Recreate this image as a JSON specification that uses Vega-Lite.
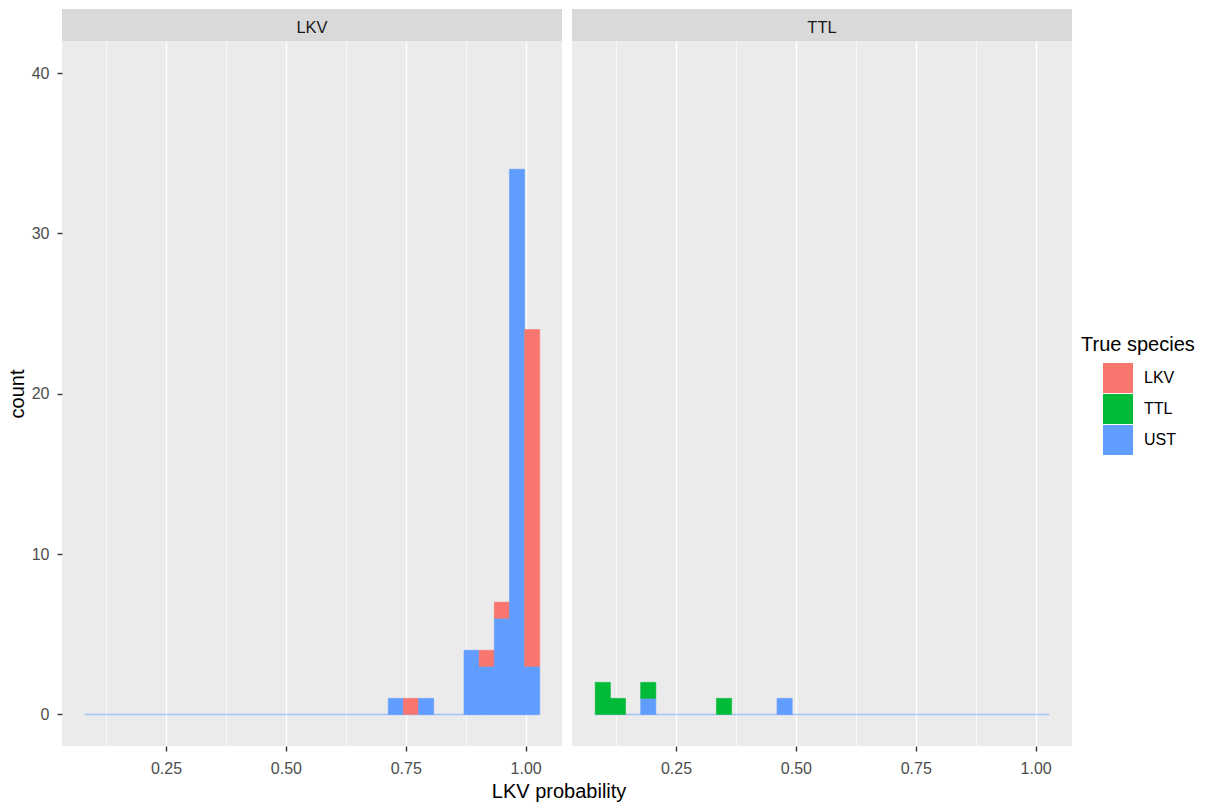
{
  "$schema": "https://vega.github.io/schema/vega-lite/v6.json",
  "padding": {"left": 7, "top": 9, "right": 5, "bottom": 5},
  "background": "white",
  "title": {"text": "LKV probability", "orient": "bottom", "anchor": "middle", "frame": "bounds", "fontSize": 20, "fontWeight": "normal", "color": "#000000", "font": "Liberation Sans", "offset": 6, "dx": -42},
  "data": {"values": [
    {"panel": "LKV", "species": "UST", "x0": 0.0805, "x1": 0.1121, "n": 0},
    {"panel": "LKV", "species": "UST", "x0": 0.7125, "x1": 0.7441, "n": 1},
    {"panel": "LKV", "species": "LKV", "x0": 0.7441, "x1": 0.7757, "n": 1},
    {"panel": "LKV", "species": "UST", "x0": 0.7757, "x1": 0.8073, "n": 1},
    {"panel": "LKV", "species": "UST", "x0": 0.8705, "x1": 0.9021, "n": 4},
    {"panel": "LKV", "species": "UST", "x0": 0.9021, "x1": 0.9337, "n": 3},
    {"panel": "LKV", "species": "LKV", "x0": 0.9021, "x1": 0.9337, "n": 1},
    {"panel": "LKV", "species": "UST", "x0": 0.9337, "x1": 0.9653, "n": 6},
    {"panel": "LKV", "species": "LKV", "x0": 0.9337, "x1": 0.9653, "n": 1},
    {"panel": "LKV", "species": "UST", "x0": 0.9653, "x1": 0.9969, "n": 34},
    {"panel": "LKV", "species": "UST", "x0": 0.9969, "x1": 1.0285, "n": 3},
    {"panel": "LKV", "species": "LKV", "x0": 0.9969, "x1": 1.0285, "n": 21},
    {"panel": "TTL", "species": "TTL", "x0": 0.0805, "x1": 0.1121, "n": 2},
    {"panel": "TTL", "species": "TTL", "x0": 0.1121, "x1": 0.1437, "n": 1},
    {"panel": "TTL", "species": "UST", "x0": 0.1753, "x1": 0.2069, "n": 1},
    {"panel": "TTL", "species": "TTL", "x0": 0.1753, "x1": 0.2069, "n": 1},
    {"panel": "TTL", "species": "TTL", "x0": 0.3333, "x1": 0.3649, "n": 1},
    {"panel": "TTL", "species": "UST", "x0": 0.4597, "x1": 0.4913, "n": 1},
    {"panel": "TTL", "species": "UST", "x0": 0.9969, "x1": 1.0285, "n": 0}
  ]},
  "spacing": 10,
  "hconcat": [
    {
      "spacing": 0,
      "vconcat": [
        {
          "width": 500, "height": 32,
          "view": {"fill": "#D9D9D9", "stroke": null},
          "transform": [{"filter": "datum.panel === 'LKV'"}, {"aggregate": [{"op": "count", "as": "c"}], "groupby": ["panel"]}],
          "mark": {"type": "text", "fontSize": 16.5, "color": "#1A1A1A", "baseline": "middle", "align": "center", "dy": 3},
          "encoding": {"text": {"field": "panel", "type": "nominal"}}
        },
        {
          "width": 500, "height": 705,
          "view": {"fill": "#EBEBEB", "stroke": null},
          "transform": [{"filter": "datum.panel === 'LKV'"}],
          "layer": [
            {
              "mark": {"type": "rule", "color": "#619CFF", "opacity": 0.5, "strokeWidth": 1.5},
              "encoding": {
                "x": {"aggregate": "min", "field": "x0", "type": "quantitative"},
                "x2": {"aggregate": "max", "field": "x1"},
                "y": {"datum": 0, "type": "quantitative"}
              }
            },
            {
              "mark": {"type": "bar", "strokeWidth": 0.6, "binSpacing": 0},
              "encoding": {
                "x": {"field": "x0", "type": "quantitative", "bin": "binned",
                      "scale": {"domain": [0.0331, 1.0759], "nice": false, "zero": false},
                      "axis": {"values": [0.125, 0.25, 0.375, 0.5, 0.625, 0.75, 0.875, 1.0], "format": ".2f",
                               "labelExpr": "indexof([0.25,0.5,0.75,1], datum.value) >= 0 ? datum.label : ''",
                               "gridWidth": {"condition": {"test": "indexof([0.25,0.5,0.75,1], datum.value) >= 0", "value": 1.4}, "value": 0.7},
                               "tickOpacity": {"condition": {"test": "indexof([0.25,0.5,0.75,1], datum.value) >= 0", "value": 1}, "value": 0},
                               "title": null}},
                "x2": {"field": "x1"},
                "y": {"field": "n", "type": "quantitative", "stack": "zero",
                      "scale": {"domain": [-1.97, 42.0], "nice": false, "zero": false},
                      "axis": {"values": [0, 5, 10, 15, 20, 25, 30, 35, 40],
                               "labelExpr": "datum.value % 10 === 0 ? datum.label : ''",
                               "gridWidth": {"condition": {"test": "datum.value % 10 === 0", "value": 1.4}, "value": 0.7},
                               "tickOpacity": {"condition": {"test": "datum.value % 10 === 0", "value": 1}, "value": 0},
                               "title": "count", "titlePadding": 4, "labelPadding": 8}},
                "color": {"field": "species", "type": "nominal",
                          "scale": {"domain": ["LKV", "TTL", "UST"], "range": ["#F8766D", "#00BA38", "#619CFF"]},
                          "legend": {"title": "True species"}},
                "stroke": {"condition": {"test": "datum.n === 0", "value": "transparent"},
                           "field": "species", "type": "nominal",
                           "scale": {"domain": ["LKV", "TTL", "UST"], "range": ["#F8766D", "#00BA38", "#619CFF"]},
                           "legend": null},
                "order": {"field": "species", "sort": "descending"}
              }
            }
          ]
        }
      ]
    },
    {
      "spacing": 0,
      "vconcat": [
        {
          "width": 500, "height": 32,
          "view": {"fill": "#D9D9D9", "stroke": null},
          "transform": [{"filter": "datum.panel === 'TTL'"}, {"aggregate": [{"op": "count", "as": "c"}], "groupby": ["panel"]}],
          "mark": {"type": "text", "fontSize": 16.5, "color": "#1A1A1A", "baseline": "middle", "align": "center", "dy": 3},
          "encoding": {"text": {"field": "panel", "type": "nominal"}}
        },
        {
          "width": 500, "height": 705,
          "view": {"fill": "#EBEBEB", "stroke": null},
          "transform": [{"filter": "datum.panel === 'TTL'"}],
          "layer": [
            {
              "mark": {"type": "rule", "color": "#619CFF", "opacity": 0.5, "strokeWidth": 1.5},
              "encoding": {
                "x": {"aggregate": "min", "field": "x0", "type": "quantitative"},
                "x2": {"aggregate": "max", "field": "x1"},
                "y": {"datum": 0, "type": "quantitative"}
              }
            },
            {
              "mark": {"type": "bar", "strokeWidth": 0.6, "binSpacing": 0},
              "encoding": {
                "x": {"field": "x0", "type": "quantitative", "bin": "binned",
                      "scale": {"domain": [0.0331, 1.0759], "nice": false, "zero": false},
                      "axis": {"values": [0.125, 0.25, 0.375, 0.5, 0.625, 0.75, 0.875, 1.0], "format": ".2f",
                               "labelExpr": "indexof([0.25,0.5,0.75,1], datum.value) >= 0 ? datum.label : ''",
                               "gridWidth": {"condition": {"test": "indexof([0.25,0.5,0.75,1], datum.value) >= 0", "value": 1.4}, "value": 0.7},
                               "tickOpacity": {"condition": {"test": "indexof([0.25,0.5,0.75,1], datum.value) >= 0", "value": 1}, "value": 0},
                               "title": null}},
                "x2": {"field": "x1"},
                "y": {"field": "n", "type": "quantitative", "stack": "zero",
                      "scale": {"domain": [-1.97, 42.0], "nice": false, "zero": false},
                      "axis": {"values": [0, 5, 10, 15, 20, 25, 30, 35, 40], "labels": false, "ticks": false, "title": null,
                               "gridWidth": {"condition": {"test": "datum.value % 10 === 0", "value": 1.4}, "value": 0.7}}},
                "color": {"field": "species", "type": "nominal",
                          "scale": {"domain": ["LKV", "TTL", "UST"], "range": ["#F8766D", "#00BA38", "#619CFF"]},
                          "legend": {"title": "True species"}},
                "stroke": {"condition": {"test": "datum.n === 0", "value": "transparent"},
                           "field": "species", "type": "nominal",
                           "scale": {"domain": ["LKV", "TTL", "UST"], "range": ["#F8766D", "#00BA38", "#619CFF"]},
                           "legend": null},
                "order": {"field": "species", "sort": "descending"}
              }
            }
          ]
        }
      ]
    }
  ],
  "config": {
    "font": "Liberation Sans",
    "axis": {"domain": false, "gridColor": "#FFFFFF", "tickColor": "#333333", "tickWidth": 1.4, "tickSize": 5,
             "labelColor": "#4D4D4D", "labelFontSize": 16, "labelFont": "Liberation Sans",
             "titleFontSize": 20, "titleFontWeight": "normal", "titleColor": "#000000", "titleFont": "Liberation Sans"},
    "axisX": {"labelPadding": 9},
    "legend": {"orient": "none", "legendX": 1019, "legendY": 326, "padding": 0,
               "symbolType": "square", "symbolSize": 900, "symbolStrokeWidth": 0, "symbolOffset": 22,
               "labelFontSize": 16, "labelColor": "#000000", "labelOffset": 11, "labelFont": "Liberation Sans",
               "titleFontSize": 20, "titleFontWeight": "normal", "titleColor": "#000000", "titleFont": "Liberation Sans",
               "titlePadding": 8, "rowPadding": 1},
    "text": {"font": "Liberation Sans"}
  }
}
